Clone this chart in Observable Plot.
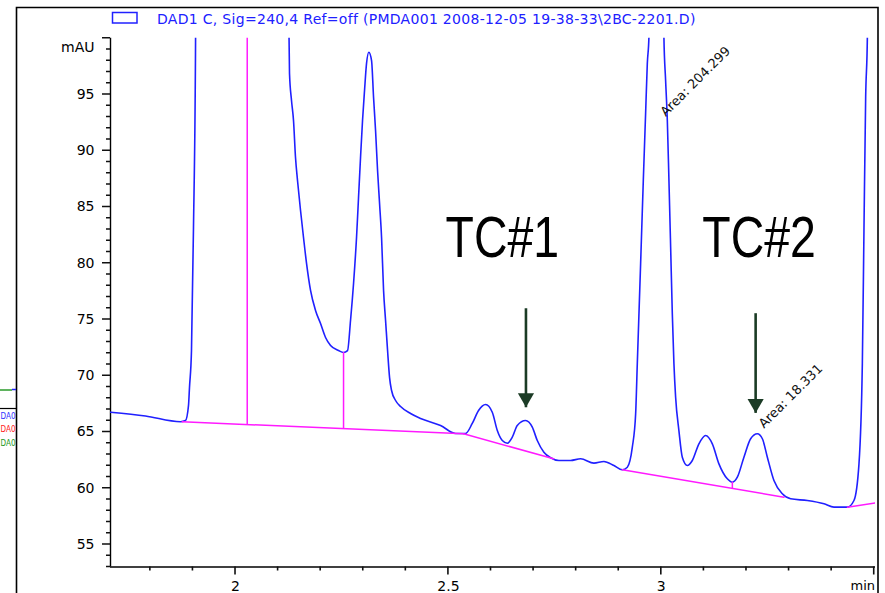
<!DOCTYPE html>
<html>
<head>
<meta charset="utf-8">
<script src="https://cdn.jsdelivr.net/npm/d3@7"></script>
<script src="https://cdn.jsdelivr.net/npm/@observablehq/plot@0.6"></script>
<style>
  html, body { margin: 0; padding: 0; background: #fff; }
  #chart svg { display: block; }
</style>
</head>
<body>
<div id="chart"></div>
<script>
// ---- Chromatogram trace (DAD1 C, mAU vs min); values above 100 are off-scale (clipped)
const traceTime = [1.7064, 1.7886, 1.8708, 1.8825, 1.8896, 1.8919, 1.8966, 1.9013, 1.9060, 1.9096,
  2.1222, 2.1257, 2.1268, 2.1315, 2.1362, 2.1409, 2.1456, 2.1527, 2.1597, 2.1668,
  2.1762, 2.1879, 2.1997, 2.2114, 2.2232, 2.2420, 2.2537, 2.2631, 2.2701, 2.2772,
  2.2842, 2.2889, 2.2936, 2.2983, 2.3030, 2.3077, 2.3131, 2.3195, 2.3242, 2.3289,
  2.3336, 2.3383, 2.3430, 2.3477, 2.3524, 2.3571, 2.3618, 2.3665, 2.3759, 2.3876,
  2.4111, 2.4346, 2.4816, 2.5168, 2.5403, 2.5560, 2.5708, 2.5873, 2.6030, 2.6148,
  2.6265, 2.6383, 2.6500, 2.6617, 2.6812, 2.6970, 2.7087, 2.7242, 2.7400, 2.7595,
  2.7870, 2.8104, 2.8417, 2.8652, 2.8887, 2.9084, 2.9202, 2.9319, 2.9397, 2.9436,
  2.9514, 2.9577, 2.9631, 2.9671, 2.9709, 2.9725, 3.0042, 3.0061, 3.0101, 3.0141,
  3.0179, 3.0219, 3.0258, 3.0296, 3.0336, 3.0413, 3.0493, 3.0611, 3.0728, 3.0883,
  3.1041, 3.1198, 3.1353, 3.1550, 3.1668, 3.1785, 3.1940, 3.2098, 3.2255, 3.2373,
  3.2490, 3.2645, 3.2842, 3.3037, 3.3430, 3.3820, 3.4055, 3.4370, 3.4524, 3.4642,
  3.4721, 3.4759, 3.4799, 3.4839, 3.4858];
const traceSignal = [66.76, 66.42, 65.91, 66.02, 67.36, 68.96, 72.24, 83.18, 98.64, 130,
  130, 100.07, 96.87, 94.47, 92.69, 89.40, 87.36, 84.69, 82.29, 79.98,
  77.58, 75.80, 74.64, 73.40, 72.69, 72.24, 72.07, 72.24, 74.91, 78.20,
  82.29, 85.84, 89.40, 92.69, 95.36, 97.76, 98.76, 98.02, 94.73, 91.80,
  88.24, 85.31, 82.29, 77.58, 74.91, 72.24, 69.84, 68.69, 67.80, 67.27,
  66.64, 66.20, 65.58, 64.87, 64.87, 65.76, 66.91, 67.44, 66.76, 65.13,
  64.24, 64.00, 64.54, 65.58, 66.02, 65.43, 64.24, 63.20, 62.71, 62.47,
  62.47, 62.62, 62.23, 62.38, 62.02, 61.64, 61.87, 63.65, 66.62, 71.09,
  79.98, 87.36, 93.31, 97.76, 100.1, 130, 130, 100.1, 96.24, 92.69,
  87.36, 81.43, 75.53, 71.09, 68.09, 65.13, 62.76, 62.02, 62.47, 63.95,
  64.69, 63.95, 62.17, 60.84, 60.54, 60.98, 62.76, 64.40, 64.84, 64.40,
  62.76, 60.69, 59.51, 59.06, 58.91, 58.62, 58.32, 58.32, 58.91, 62.17,
  71.06, 82.91, 94.76, 100.1, 130];

// ---- Integration baseline segments (magenta)
const baseSegment = [1, 1, 2, 2, 3, 3, 4, 4];
const baseTime    = [1.8748, 2.5356, 2.5356, 2.747, 2.9084, 3.288, 3.437, 3.503];
const baseSignal  = [65.91, 64.84, 64.84, 62.62, 61.64, 59.20, 58.32, 58.70];

// ---- Peak drop lines (magenta)
const dropTime = [2.0275, 2.2537, 3.1668];
const dropFrom = [65.66, 65.30, 59.98];
const dropTo   = [130, 72.07, 60.54];

// ---- Annotations
const arrowTime = [2.6821, 3.2215];
const arrowFrom = [76.0, 75.56];
const arrowTo   = [67.2, 66.7];
const tcText   = ["TC#1", "TC#2"];
const tcTime   = [2.4933, 3.0963];
const tcSignal = [80.54, 80.54];
const areaText   = ["Area: 204.299", "Area: 18.331"];
const areaTime   = [3.0105, 3.2410];
const areaSignal = [93.0, 65.28];

// ---- Axes
const xDomain = [1.7064, 3.503];
const yDomain = [53, 100];
const xTickLabels = [2, 2.5, 3];
const xMajorTicks = [2, 2.5, 3, 3.5];
const yTickLabels = [55, 60, 65, 70, 75, 80, 85, 90, 95];
const yMajorTicks = [55, 60, 65, 70, 75, 80, 85, 90, 95, 100];
const legendText = "DAD1 C, Sig=240,4 Ref=off (PMDA001 2008-12-05 19-38-33\\2BC-2201.D)";

const xMinorTicks = d3.range(18, 36).map(d => d / 10).filter(d => !xMajorTicks.includes(d));
const yMinorTicks = d3.range(53, 101).filter(d => !yMajorTicks.includes(d));

const trace = traceTime.map((t, i) => ({t, v: traceSignal[i]}));
const baseline = baseTime.map((t, i) => ({t, v: baseSignal[i], seg: baseSegment[i]}));
const drops = dropTime.map((t, i) => ({t, v1: dropFrom[i], v2: dropTo[i]}));
const arrows = arrowTime.map((t, i) => ({t, v1: arrowFrom[i], v2: arrowTo[i]}));
const tcLabels = tcText.map((text, i) => ({text, t: tcTime[i], v: tcSignal[i]}));
const areaLabels = areaText.map((text, i) => ({text, t: areaTime[i], v: areaSignal[i]}));

const BLUE = "#2020ff", MAGENTA = "#ff1aff", GREEN = "#1b3b25";
const FONT = "'DejaVu Sans', sans-serif";

const W = 885, H = 593, ML = 110, MR = 10, MT = 37.75, MB = 26.5;

const chart = Plot.plot({
  width: W,
  height: H,
  marginLeft: ML,
  marginRight: MR,
  marginTop: MT,
  marginBottom: MB,
  style: {fontFamily: FONT, fontSize: "14px", color: "black", background: "white", overflow: "visible"},
  x: {domain: xDomain, axis: null},
  y: {domain: yDomain, axis: null},
  marks: [
    // tick labels
    Plot.text(xTickLabels, {x: d => d, frameAnchor: "bottom", dy: 14, lineAnchor: "top", text: d => String(d), fill: "black", fontSize: 14}),
    Plot.text(yTickLabels, {y: d => d, frameAnchor: "left", dx: -16, textAnchor: "end", lineAnchor: "middle", text: d => String(d), fill: "black", fontSize: 14}),
    Plot.ruleX([xDomain[0]], {stroke: "black", strokeWidth: 1.4}),
    Plot.ruleY([yDomain[0]], {stroke: "black", strokeWidth: 1.4}),
    Plot.text(["mAU"], {frameAnchor: "top-left", dx: -16, dy: 9, textAnchor: "end", lineAnchor: "middle", fill: "black", fontSize: 14}),
    Plot.text(["min"], {frameAnchor: "bottom-right", dx: -25, dy: 22.5, textAnchor: "start", lineAnchor: "bottom", fill: "black", fontSize: 13}),
    // chromatogram
    Plot.line(trace, {x: "t", y: "v", stroke: BLUE, strokeWidth: 1.6, curve: "monotone-x", clip: true}),
    Plot.line(baseline, {x: "t", y: "v", z: "seg", stroke: MAGENTA, strokeWidth: 1.5, clip: true}),
    Plot.ruleX(drops, {x: "t", y1: "v1", y2: "v2", stroke: MAGENTA, strokeWidth: 1.5, clip: true}),
    // annotations
    Plot.link(arrows, {x1: "t", x2: "t", y1: "v1", y2: "v2", stroke: GREEN, strokeWidth: 2.6}),
    Plot.dot(arrows, {x: "t", y: "v2", symbol: "triangle", rotate: 180, r: 6, fill: GREEN, stroke: "none", dy: -9.3}),
    Plot.text(tcLabels, {x: "t", y: "v", text: "text", textAnchor: "start", lineAnchor: "bottom", fontSize: 58, fontFamily: "'Liberation Sans', Arial, sans-serif", fill: "black"}),
    Plot.text(areaLabels, {x: "t", y: "v", text: "text", textAnchor: "start", lineAnchor: "bottom", rotate: -45, fontSize: 13, fill: "#111"})
  ]
});

const svg = d3.select(chart);
const sx = chart.scale("x"), sy = chart.scale("y");
// axis ticks, positioned through the chart's own scales
const ticks = svg.append("g").attr("fill", "none");
const y0 = sy.apply(yDomain[0]), x0 = sx.apply(xDomain[0]);
const tickPath = [];
[[xMinorTicks, 4], [xMajorTicks, 8]].forEach(([vals, len]) => vals.forEach(v => {
  const x = sx.apply(v);
  tickPath.push(`M${x},${y0}V${y0 + len}`);
}));
[[yMinorTicks, 4], [yMajorTicks, 8]].forEach(([vals, len]) => vals.forEach(v => {
  const y = sy.apply(v);
  tickPath.push(`M${x0},${y}H${x0 - len}`);
}));
ticks.append("path").attr("d", tickPath.join(""))
  .style("stroke", "#111").style("stroke-width", "1.6px");
// condense the large TC labels horizontally (narrow face as in the reference)
svg.selectAll("text").filter(function () { return /^TC#/.test(this.textContent); })
  .each(function () {
    const x = +this.getAttribute("x") || 0, y = +this.getAttribute("y") || 0;
    const prev = this.getAttribute("transform") || "";
    this.setAttribute("transform", `${prev} translate(${x},${y}) scale(0.8,1) translate(${-x},${-y})`);
  });
// window frame
svg.append("path")
  .attr("d", "M16.5,593V7.5H878V593")
  .attr("fill", "none").attr("stroke", "black").attr("stroke-width", 1.6);
// legend
svg.append("rect")
  .attr("x", 112.5).attr("y", 12.5).attr("width", 24.5).attr("height", 10.5)
  .attr("fill", "none").attr("stroke", BLUE).attr("stroke-width", 1.5);
svg.append("text")
  .attr("x", 157).attr("y", 23.5).attr("text-anchor", "start")
  .attr("fill", BLUE).attr("font-size", 14).attr("letter-spacing", 0.3).attr("font-family", FONT)
  .text(legendText);
// fragment of neighbouring window at the left edge
svg.append("line").attr("x1", 0).attr("x2", 16).attr("y1", 408.5).attr("y2", 408.5).attr("stroke", "black").attr("stroke-width", 1.2);
svg.append("line").attr("x1", 0).attr("x2", 12).attr("y1", 390).attr("y2", 390).attr("stroke", "#2a9a2a").attr("stroke-width", 1.5);
svg.append("line").attr("x1", 12).attr("x2", 16).attr("y1", 389.5).attr("y2", 389.5).attr("stroke", BLUE).attr("stroke-width", 1.5);
[["#3030ff", 418.5], ["#ff2020", 431.5], ["#229922", 445.5]].forEach(([c, y]) => {
  svg.append("text").attr("x", 0.5).attr("y", y).attr("text-anchor", "start")
    .attr("textLength", 15).attr("lengthAdjust", "spacingAndGlyphs")
    .attr("fill", c).attr("font-size", 9.5).attr("font-family", FONT).text("DA0");
});

document.getElementById("chart").append(chart);
</script>
</body>
</html>
